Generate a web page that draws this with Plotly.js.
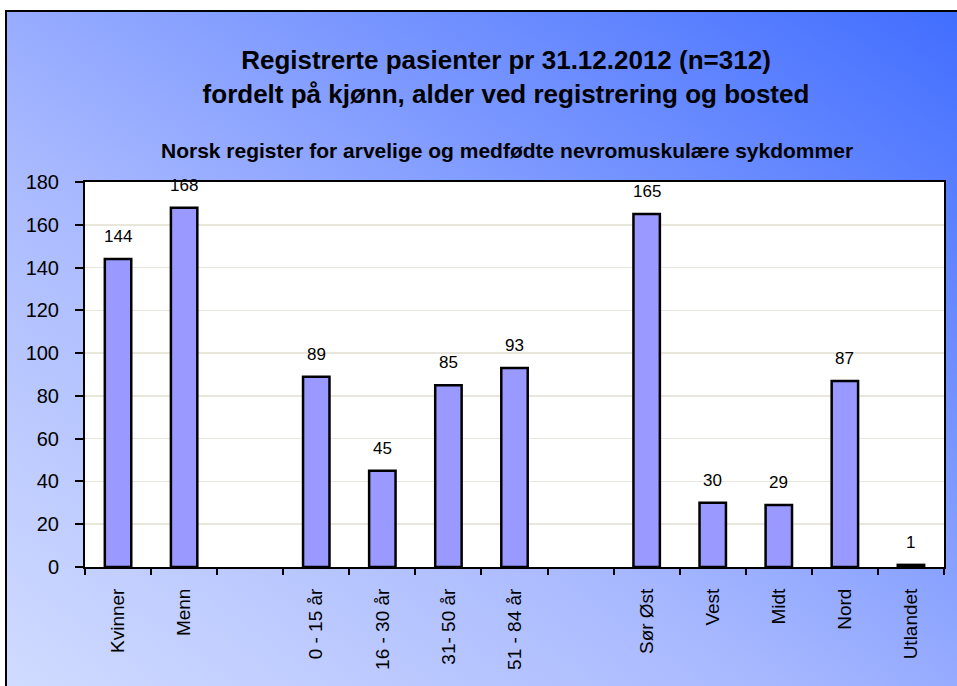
<!DOCTYPE html>
<html><head><meta charset="utf-8">
<script src="https://cdn.plot.ly/plotly-3.0.1.min.js"></script>
<style>
html,body{margin:0;padding:0;width:957px;height:686px;overflow:hidden;}
#frame{position:absolute;left:5px;top:10px;width:980px;height:700px;border-left:2px solid #000;border-top:2px solid #000;
background:linear-gradient(to top right,#d2ddff 0%,#a9b9ff 40%,#3f6cff 100%);}
#chart{position:absolute;left:0;top:0;width:957px;height:686px;}
</style></head>
<body>
<div id="frame"></div>
<div id="chart"></div>
<script>
const categories = ["Kvinner","Menn"," ","0 - 15 år","16 - 30 år","31- 50 år","51 - 84 år","  ","Sør Øst","Vest","Midt","Nord","Utlandet"];
const values = [144,168,null,89,45,85,93,null,165,30,29,87,1];
const yTicks = [0,20,40,60,80,100,120,140,160,180];

const font = "Liberation Sans, Arial, sans-serif";

const annotations = categories.map((c,i)=> values[i]==null ? null : ({
  x:c, y:values[i], xref:'x', yref:'y', text:String(values[i]), showarrow:false,
  yanchor:'bottom', yshift:11, font:{family:font,size:17,color:'#000'}
})).filter(a=>a);

annotations.push({
  xref:'paper', yref:'paper', x:(507-85)/859, y:1+(182-150)/385, xanchor:'center', yanchor:'middle',
  text:'<b>Norsk register for arvelige og medfødte nevromuskulære sykdommer</b>',
  showarrow:false, font:{family:font,size:21,color:'#000'}
});

const trace = {
  type:'bar', x:categories, y:values,
  marker:{color:'#9999ff', line:{color:'#000', width:2.5}},
  width:0.4, hoverinfo:'x+y'
};

const layout = {
  width:957, height:686,
  paper_bgcolor:'rgba(0,0,0,0)', plot_bgcolor:'#fff',
  margin:{l:85, r:13, t:182, b:119},
  title:{text:'<b>Registrerte pasienter pr 31.12.2012 (n=312)<br>fordelt på kjønn, alder ved registrering og bosted</b>',
    x:(506-85)/859, xanchor:'center', xref:'paper', y:1-69/686, yanchor:'top', yref:'container',
    font:{family:font,size:26,color:'#000', lineposition:'none'}},
  showlegend:false,
  xaxis:{type:'category', categoryorder:'array', categoryarray:categories,
    tickson:'boundaries', ticks:'outside', ticklen:6, tickwidth:2, tickcolor:'#000',
    showline:true, linecolor:'#000', linewidth:2, mirror:true,
    tickangle:-90, tickfont:{family:font,size:19,color:'#000'}, ticklabelstandoff:12,
    showgrid:false, zeroline:false},
  yaxis:{range:[0,180], tickvals:yTicks, ticks:'outside', ticklen:8, tickwidth:2, tickcolor:'#000',
    showline:true, linecolor:'#000', linewidth:2, mirror:true,
    tickfont:{family:font,size:20,color:'#000'}, ticklabelstandoff:12,
    showgrid:true, gridcolor:'#e9e7dc', gridwidth:1.5, zeroline:false},
  annotations:annotations
};

Plotly.newPlot('chart',[trace],layout,{displayModeBar:false,staticPlot:true});
</script>
</body></html>
